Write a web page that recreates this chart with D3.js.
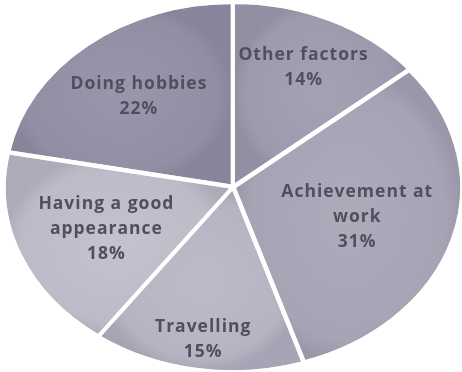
<!DOCTYPE html>
<html>
<head>
    <title>Pie chart</title>
    <script src="https://cdnjs.cloudflare.com/ajax/libs/d3/7.8.5/d3.min.js"></script>
    <style>
        body { margin: 0; background: #fff; }
        .label {
            font-family: "Open Sans", sans-serif;
            font-size: 17.5px;
            font-weight: 700;
            fill: #514f5e;
            letter-spacing: 1px;
        }
    </style>
</head>
<body>
<svg id="chart"></svg>

<script>
    // slices in clockwise order, starting at 12 o'clock
    const categories = ["Other factors", "Achievement at work", "Travelling", "Having a good appearance", "Doing hobbies"];
    const values = [14, 31, 15, 18, 22];
    const labelLines = [["Other factors"], ["Achievement at", "work"], ["Travelling"], ["Having a good", "appearance"], ["Doing hobbies"]];
    const colors = ["#9f9daf", "#a9a7b7", "#bab7c6", "#c2bfcc", "#9391a6"];
    // how far out (fraction of radius) each label sits
    const labelPos = [0.73, 0.57, 0.84, 0.60, 0.65];

    const width = 462;
    const height = 372;
    const cx = 233, cy = 187;
    const rx = 227, ry = 183;
    const R = 100;
    const explode = 1.5;

    const svg = d3.select("#chart")
        .attr("width", width)
        .attr("height", height);

    const defs = svg.append("defs");
    const grad = defs.append("radialGradient")
        .attr("id", "shade")
        .attr("cx", "50%").attr("cy", "50%").attr("r", "50%");
    grad.append("stop").attr("offset", "0%").attr("stop-color", "#fff").attr("stop-opacity", 0.05);
    grad.append("stop").attr("offset", "85%").attr("stop-color", "#6a6880").attr("stop-opacity", 0.05);
    grad.append("stop").attr("offset", "100%").attr("stop-color", "#5a5870").attr("stop-opacity", 0.2);

    defs.append("filter").attr("id", "soft")
        .append("feGaussianBlur").attr("stdDeviation", 0.5);

    const pie = d3.pie().sort(null).value(d => d);
    const arcs = pie(values);

    const arc = d3.arc().innerRadius(0).outerRadius(R);

    const slices = svg.append("g")
        .selectAll("g")
        .data(arcs)
        .join("g")
        .attr("transform", d => {
            const mid = (d.startAngle + d.endAngle) / 2;
            const dx = explode * Math.sin(mid);
            const dy = -explode * Math.cos(mid);
            return `translate(${cx + dx},${cy + dy}) scale(${rx / R},${ry / R})`;
        });

    slices.append("path")
        .attr("d", arc)
        .attr("fill", (d, i) => colors[i])
        .attr("stroke", "#fff")
        .attr("stroke-width", 2.5)
        .attr("vector-effect", "non-scaling-stroke");

    slices.append("path")
        .attr("d", arc)
        .attr("fill", "url(#shade)")
        .attr("stroke", "#fff")
        .attr("stroke-width", 2.5)
        .attr("vector-effect", "non-scaling-stroke");

    const lineH = 25;
    const labels = svg.append("g")
        .selectAll("text")
        .data(arcs)
        .join("text")
        .attr("class", "label")
        .attr("text-anchor", "middle")
        .attr("filter", "url(#soft)")
        .attr("transform", (d, i) => {
            const mid = (d.startAngle + d.endAngle) / 2;
            const x = cx + labelPos[i] * rx * Math.sin(mid);
            const y = cy - labelPos[i] * ry * Math.cos(mid);
            return `translate(${x},${y})`;
        });

    labels.each(function(d, i) {
        const lines = labelLines[i].concat([d.value + "%"]);
        const y0 = -(lines.length - 1) * lineH / 2;
        d3.select(this).selectAll("tspan")
            .data(lines)
            .join("tspan")
            .attr("x", 0)
            .attr("y", (t, j) => y0 + j * lineH)
            .attr("dy", "0.35em")
            .text(t => t);
    });
</script>
</body>
</html>
